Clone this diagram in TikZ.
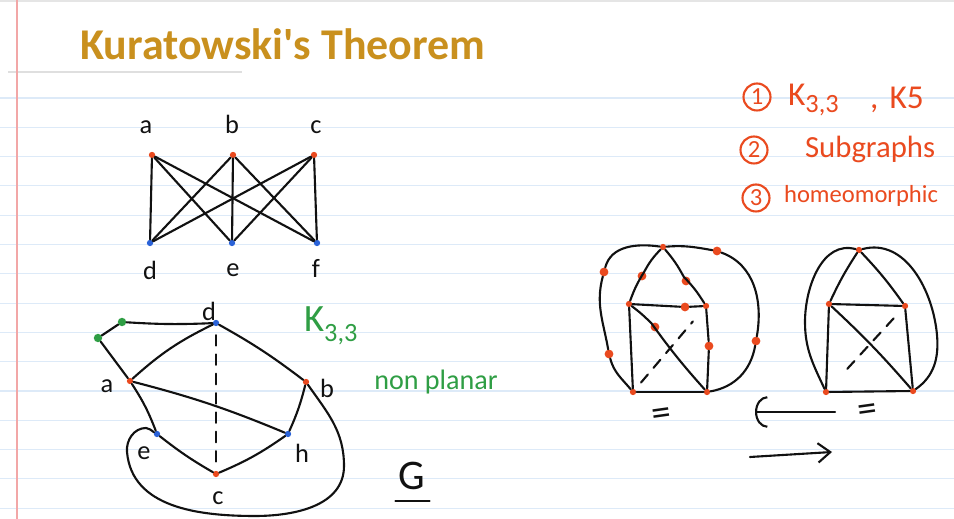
\documentclass[tikz,border=0pt]{standalone}
\usepackage{fontspec}
\setmainfont{Carlito}
\newfontfamily\titlefont{Carlito}[Ligatures=TeXOff]
\usetikzlibrary{arrows.meta,calc,positioning}
\definecolor{ink}{HTML}{111111}
\definecolor{gold}{HTML}{C9901E}
\definecolor{penred}{HTML}{EA4A1F}
\definecolor{pengreen}{HTML}{2F9E44}
\definecolor{penblue}{HTML}{2A62D8}
\definecolor{rulecol}{HTML}{DDEAF8}
\definecolor{margincol}{HTML}{F2A7A7}
\tikzset{>=Latex,line width=1.2pt,
  pen/.style={draw=ink,line width=1.2pt,line cap=round,line join=round},
  hidden/.style={pen,dash pattern=on 6pt off 5pt},
  ruled/.style={draw=rulecol,line width=.6pt},
  dot/.style={circle,inner sep=0pt,minimum size=3.6pt},
  rdot/.style={dot,fill=penred},
  bdot/.style={dot,fill=penblue},
  gdot/.style={dot,fill=pengreen,minimum size=4.8pt},
  sdot/.style={dot,fill=penred,minimum size=5pt},
  lbl/.style={font=\fontsize{15}{15}\selectfont,text=ink,inner sep=1pt},
  greennote/.style={font=\fontsize{16}{16}\selectfont,text=pengreen,inner sep=1pt},
  rednote/.style={font=\fontsize{16}{16}\selectfont,text=penred,inner sep=1pt,anchor=west},
  numbox/.style={circle,draw=penred,line width=1.2pt,minimum size=.54cm,inner sep=0pt,
    text=penred,font=\fontsize{14}{14}\selectfont},
  eqsign/.style={font=\fontsize{22}{22}\selectfont,text=ink,rotate=8,inner sep=0pt}}

\begin{document}
\begin{tikzpicture}[x=0.02cm,y=-0.02cm]
\useasboundingbox[fill=white] (0,0) rectangle (954,519);
% notebook paper
\foreach \k in {0,...,14}
  \draw[ruled] (0,{98+29.3*\k}) -- (954,{98+29.3*\k});
\draw[draw=gray!20,line width=.6pt] (0,1) -- (954,1);
\draw[draw=gray!25,line width=.6pt] (8,72) -- (242,72);
\draw[draw=margincol,line width=.8pt] (17,0) -- (17,519);

\node[font=\titlefont\fontsize{25}{25}\selectfont\bfseries,text=gold,anchor=base west,inner sep=0pt]
  (title) at (80,60) {Kuratowski's Theorem};

% K_{3,3}
\node[rdot] (a) at (152,155) {};
\node[rdot] (b) at (233,155) {};
\node[rdot] (c) at (314,155) {};
\node[bdot] (d) at (150,243) {};
\node[bdot] (e) at (232,243) {};
\node[bdot] (f) at (317,243) {};
\foreach \u in {a,b,c}
  \foreach \v in {d,e,f}
    \draw[pen] (\u) -- (\v);
\foreach \n/\x/\y in {a/146/127,b/232/124,c/316/127,d/150/270,e/233/270,f/316/268}
  \node[lbl] (l\n) at (\x,\y) {\n};

% graph G
\node[gdot] (gp) at (98,338) {};
\node[gdot] (gq) at (122,322) {};
\node[bdot] (gd) at (216,323) {};
\node[rdot] (ga) at (130,381) {};
\node[rdot] (gb) at (306,382) {};
\node[bdot] (ge) at (157,434) {};
\node[bdot] (gh) at (288,434) {};
\node[rdot] (gc) at (216,474) {};
\draw[pen] (gp) -- (gq);
\draw[pen] (gq) to[bend right=3] (gd);
\draw[pen] (gp) -- (ga);
\draw[pen] (ga) to[bend left=8] (gd);
\draw[pen] (gd) to[bend left=4] (gb);
\draw[pen] (ga) to[bend left=4] (gh);
\draw[pen] (ga) to[bend left=6] (ge);
\draw[pen] (ge) to[bend right=4] (gc);
\draw[pen] (gc) to[bend right=6] (gh);
\draw[pen] (gh) to[bend right=5] (gb);
\draw[hidden] ($(gd)!.08!(gc)$) -- ($(gc)!.06!(gd)$);
\coordinate (gr) at (344,466);
\coordinate (gs) at (255,516);
\coordinate (gt) at (127,452);
\coordinate (gu) at (146,428);
\draw[pen] (gb) to[out=-55,in=90] (gr) to[out=-90,in=0] (gs)
  to[out=180,in=-85] (gt) to[out=95,in=180] (gu) to[out=0,in=150] (ge);
\foreach \n/\t/\x/\y in {ga/a/107/386,gb/b/327/388,ge/e/144/453,gh/h/302/453,gc/c/218/498,gd/d/209/311}
  \node[lbl] (l\n) at (\x,\y) {\t};
\node[greennote,anchor=west,font=\fontsize{22}{22}\selectfont] (kname) at (302,326)
  {K\raisebox{-6pt}{\fontsize{15}{15}\selectfont 3,3}};
\node[greennote] (nonplanar) at (436,382) {non planar};
\node[font=\fontsize{24}{24}\selectfont,text=ink,inner sep=0pt] (G) at (412,476) {G};
\draw[pen] ($(G.south west)+(-3,11)$) -- ($(G.south east)+(4,11)$);

% the three points
\node[numbox] (n1) at (757,97) {1};
\node[rednote,font=\fontsize{19}{19}\selectfont] (t1) at (786,100)
  {K\raisebox{-4pt}{\fontsize{15}{15}\selectfont 3,3}};
\node[rednote,font=\fontsize{19}{19}\selectfont] (t1b) at (868,100) {,\,\,K5};
\node[numbox] (n2) at (754,150) {2};
\node[rednote,font=\fontsize{17.5}{17.5}\selectfont] (t2) at (803,149) {Subgraphs};
\node[numbox] (n3) at (756,198) {3};
\node[rednote,font=\fontsize{14}{14}\selectfont] (t3) at (782,196) {homeomorphic};

% subdivided graph
\node[rdot] (pT) at (663,247) {};
\node[rdot] (pL) at (629,304) {};
\node[rdot] (pR) at (706,306) {};
\node[rdot] (pBL) at (633,392) {};
\node[rdot] (pBR) at (707,392) {};
\node[sdot] (s1) at (642,276) {};
\node[sdot] (s2) at (686,281) {};
\node[sdot] (s3) at (685,307) {};
\node[sdot] (s4) at (655,327) {};
\node[sdot] (s5) at (709,346) {};
\node[sdot] (s6) at (717,251) {};
\node[sdot] (s7) at (756,341) {};
\node[sdot] (s8) at (604,272) {};
\node[sdot] (s9) at (609,354) {};
\draw[pen] (pT) to[bend right=8] (s1) to[bend right=6] (pL);
\draw[pen] (pT) to[bend left=6] (s2) to[bend left=6] (pR);
\draw[pen] (pL) -- (s3) -- (pR);
\draw[pen] (pL) to[bend left=4] (s4) to[bend right=3] (pBR);
\draw[pen] (pR) -- (s5) -- (pBR);
\draw[pen] (pL) -- (pBL);
\draw[pen] (pBL) -- (pBR);
\draw[hidden] ($(pBL)!.11!(pR)$) -- ($(pBL)!.82!(pR)$);
\draw[pen] (pT) to[out=172,in=75] (s8) to[out=-105,in=100] (s9) to[out=-75,in=130] (pBL);
\draw[pen] (pT) to[out=5,in=170] (s6) to[out=-20,in=80] (s7) to[out=-100,in=10] (pBR);
\node[eqsign] (eq1) at (662,417) {=};

% K_5 drawing
\node[rdot] (qT) at (859,250) {};
\node[rdot] (qL) at (829,304) {};
\node[rdot] (qR) at (905,306) {};
\node[rdot] (qBL) at (826,392) {};
\node[rdot] (qBR) at (913,391) {};
\draw[pen] (qT) to[bend right=4] (qL);
\draw[pen] (qT) to[bend left=4] (qR);
\draw[pen] (qL) -- (qR);
\draw[pen] (qL) -- (qBL);
\draw[pen] (qR) -- (qBR);
\draw[pen] (qBL) -- (qBR);
\draw[pen] (qL) to[bend left=3] (qBR);
\draw[hidden] ($(qBL)!.27!(qR)$) -- ($(qBL)!.86!(qR)$);
\coordinate (qw) at (805,322);
\coordinate (qe) at (937,335);
\draw[pen] (qT) to[out=165,in=90] (qw) to[out=-90,in=115] (qBL);
\draw[pen] (qT) to[out=15,in=95] (qe) to[out=-85,in=35] (qBR);
\node[eqsign] (eq2) at (868,413) {=};

% arrows
\coordinate (la1) at (835,412);
\coordinate (la2) at (755,412);
\draw[pen,-{Arc Barb[length=7pt,width=18pt]}] (la1) -- (la2);
\coordinate (ra1) at (750,457);
\coordinate (ra2) at (832,452);
\draw[pen,-{Straight Barb[length=7pt,width=11pt]}] (ra1) -- (ra2);
\end{tikzpicture}
\end{document}
